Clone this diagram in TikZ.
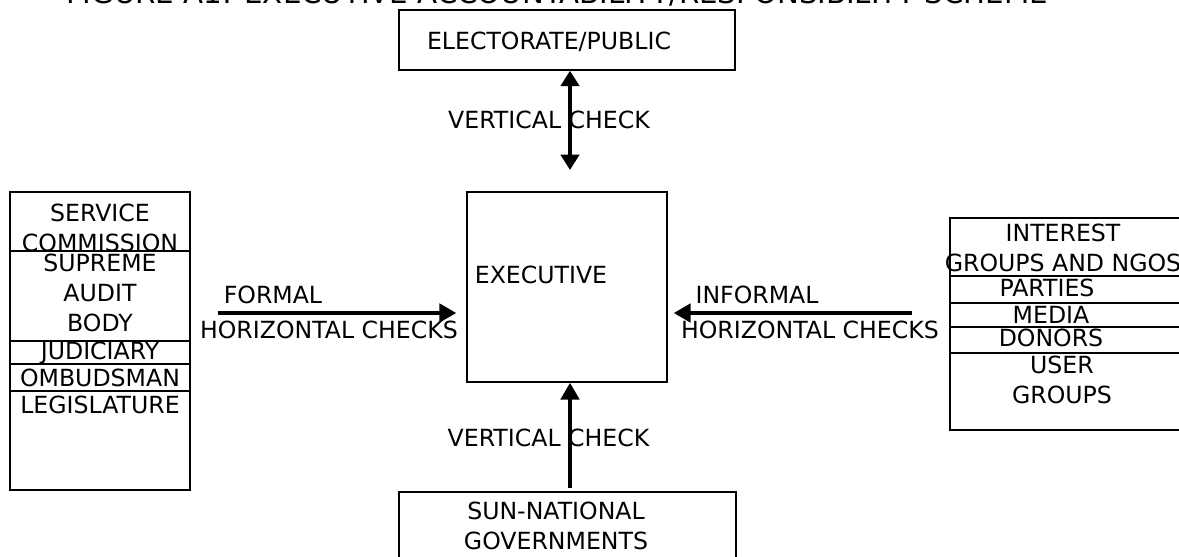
\documentclass[tikz,border=0pt]{standalone}
\usepackage{fontspec}
\setmainfont{DejaVu Sans}
\usetikzlibrary{arrows.meta}

\begin{document}
\begin{tikzpicture}[
  x=0.025cm, y=-0.025cm,
  font=\fontsize{16.8}{21.3}\selectfont,
  box/.style={draw=black, line width=1pt, inner sep=0pt},
  lbl/.style={inner sep=0pt, align=center},
  divider/.style={draw=black, line width=1pt},
  chk/.style={-{Triangle[length=12pt,width=13pt]}, line width=2.8pt},
  chkboth/.style={{Triangle[length=11pt,width=13pt]}-{Triangle[length=11pt,width=13pt]}, line width=2.8pt}
]
\useasboundingbox (0,0) rectangle (1179,557);

% Title (cut at the top edge)
\node[lbl, anchor=base, font=\fontsize{20.8}{25}\selectfont] (title) at (557,4) {FIGURE A1: EXECUTIVE ACCOUNTABILITY/RESPONSIBILITY SCHEME};

% Centre and vertical partners
\node[box, minimum width=8.4cm, minimum height=1.5cm] (elect) at (567,40) {};
\node[lbl] (electtxt) at (549,42) {ELECTORATE/PUBLIC};

\node[box, minimum width=5cm, minimum height=4.75cm] (exec) at (567,287) {};
\node[lbl] (exectxt) at (541,275) {EXECUTIVE};

\node[box, minimum width=8.425cm, minimum height=2.7cm] (subnat) at (567.5,546) {};
\node[lbl] (subnattxt) at (556,526) {SUN-NATIONAL\\GOVERNMENTS};

% Formal institutions (left)
\node[box, minimum width=4.5cm, minimum height=7.45cm] (formal) at (100,341) {};
\foreach \yy in {251,341,364,391}
  \draw[divider] (formal.west |- 0,\yy) -- (formal.east |- 0,\yy);
\node[lbl] (service) at (100,227.5) {SERVICE\\COMMISSION};
\node[lbl] (audit) at (100,293) {SUPREME\\AUDIT\\BODY};
\node[lbl] (judic) at (100,353) {JUDICIARY};
\node[lbl] (ombud) at (100,378) {OMBUDSMAN};
\node[lbl] (legis) at (100,405) {LEGISLATURE};

% Informal actors (right)
\node[box, minimum width=6.5cm, minimum height=5.3cm] (informal) at (1080,324) {};
\foreach \yy in {276,303,327,353}
  \draw[divider] (informal.west |- 0,\yy) -- (informal.east |- 0,\yy);
\node[lbl] (ngos) at (1063,247.5) {INTEREST\\GROUPS AND NGOS};
\node[lbl] (parties) at (1047,288) {PARTIES};
\node[lbl] (media) at (1051,315) {MEDIA};
\node[lbl] (donors) at (1051,338) {DONORS};
\node[lbl] (users) at (1062,380) {USER\\GROUPS};

% Checks
\coordinate (vtop) at (570,170);
\draw[chkboth] (vtop |- elect.south) -- (vtop);
\node[lbl] (vtoptxt) at (549,120) {VERTICAL CHECK};

\coordinate (vbot) at (570,488);
\draw[chk] (vbot) -- (vbot |- exec.south);
\node[lbl] (vbottxt) at (548.5,438) {VERTICAL CHECK};

\coordinate (fstart) at (218,313);
\draw[chk] (fstart) -- ([xshift=-0.25cm]exec.west |- fstart);
\node[lbl] (ftxt) at (273,295) {FORMAL};
\node[lbl] (fhtxt) at (329,330) {HORIZONTAL CHECKS};

\coordinate (istart) at (912,313);
\draw[chk] (istart) -- ([xshift=0.15cm]exec.east |- istart);
\node[lbl] (itxt) at (757,295) {INFORMAL};
\node[lbl] (ihtxt) at (810,330) {HORIZONTAL CHECKS};

\end{tikzpicture}
\end{document}
